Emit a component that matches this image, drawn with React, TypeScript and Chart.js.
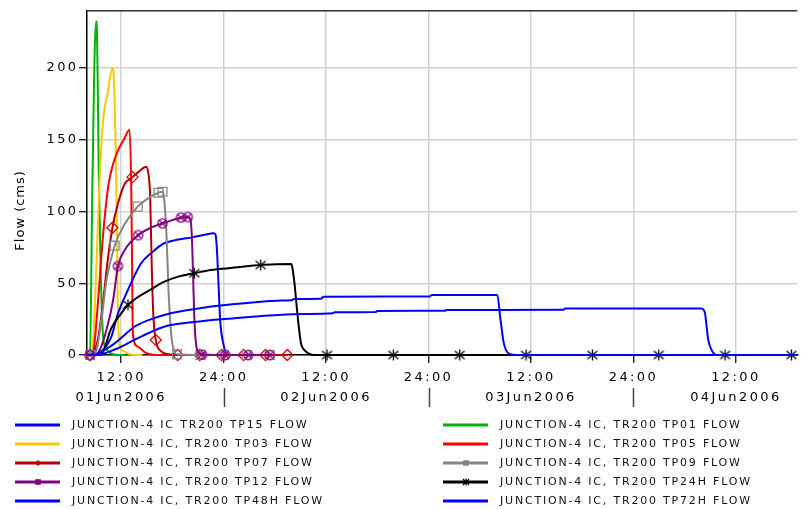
import React, { useEffect, useRef } from "react";
import { Chart, registerables } from "chart.js";
Chart.register(...registerables);

type Pt = [number, number];

// ---- labels ----
const SERIES_NAMES = [
  "JUNCTION-4 IC TR200 TP15 FLOW",
  "JUNCTION-4 IC, TR200 TP01 FLOW",
  "JUNCTION-4 IC, TR200 TP03 FLOW",
  "JUNCTION-4 IC, TR200 TP05 FLOW",
  "JUNCTION-4 IC, TR200 TP07 FLOW",
  "JUNCTION-4 IC, TR200 TP09 FLOW",
  "JUNCTION-4 IC, TR200 TP12 FLOW",
  "JUNCTION-4 IC, TR200 TP24H FLOW",
  "JUNCTION-4 IC, TR200 TP48H FLOW",
  "JUNCTION-4 IC, TR200 TP72H FLOW",
];
const Y_TITLE = "Flow (cms)";
const Y_TICKS = [0, 50, 100, 150, 200];
const X_TICK_HOURS = [12, 24, 36, 48, 60, 72, 84]; // hours after 01Jun2006 00:00
const DATE_LABELS = ["01Jun2006", "02Jun2006", "03Jun2006", "04Jun2006"];
const X_MIN_HOUR = 8;
const X_MAX_HOUR = 91.2;
const Y_MAX = 240;

// ---- series values: [hour, flow] ----
const TP15: Pt[] = [[8.0,0],[9.0,0],[9.3,1.2],[10.1,5],[10.86,12.8],[11.63,29],[12.79,45.3],[14.34,64],[15.6,71.5],[17.04,77.9],[18.7,80.5],[20.32,82],[21.8,83.8],[22.83,84.8],[23.05,84],[23.2,75],[23.4,50],[23.6,24],[24.0,7],[24.37,0.5],[25.0,0]];
const TP01: Pt[] = [[8.0,0],[8.35,0],[8.62,115],[9.05,232.5],[9.12,232],[9.4,120],[9.6,60],[9.9,12],[10.3,4],[10.7,1.5],[11.8,0],[12.5,0]];
const TP03: Pt[] = [[8.0,0],[8.55,0],[8.75,12],[8.95,38],[9.45,118],[9.9,164],[10.4,182],[11.0,200],[11.08,199],[11.44,115],[11.6,35],[11.8,8],[12.2,3],[12.8,1],[13.5,0],[14.5,0]];
const TP05: Pt[] = [[8.0,0],[8.6,0],[8.8,4],[9.3,38],[9.9,85],[10.5,118],[11.0,132],[11.65,143],[12.3,150],[12.98,157],[13.18,118],[13.3,50],[13.38,14],[13.9,6],[14.9,1.5],[16.5,0],[19.0,0]];
const TP07: Pt[] = [[8.0,0],[8.35,0],[8.9,3],[9.4,15],[9.9,38],[10.4,65],[10.98,88.7],[11.6,105],[12.4,119],[13.33,124],[14.1,128],[14.92,131.3],[15.2,126],[15.4,110],[15.55,70],[15.75,30],[16.05,10.5],[16.6,3],[17.6,0.5],[18.62,0],[21.19,0],[23.76,0],[26.33,0],[28.9,0],[31.47,0]];
const TP09: Pt[] = [[8.0,0],[8.35,0],[8.8,0.5],[9.12,3.5],[9.7,24.4],[10.28,52],[11.24,76.2],[12.5,92],[13.94,103.4],[15.1,109],[16.38,113.1],[16.84,113.8],[17.05,108],[17.3,85],[17.55,45],[17.85,15],[18.2,3],[18.54,0.5],[21.29,0],[23.99,0],[26.69,0],[29.4,0]];
const TP12: Pt[] = [[8.0,0],[8.35,0],[9.0,0.3],[9.5,3.5],[10.28,17.4],[11.05,38],[11.63,62],[12.4,73],[14.0,83.6],[15.4,88.5],[16.84,91.8],[18.0,94],[19.0,95.8],[19.8,96.2],[20.1,95],[20.3,80],[20.45,50],[20.6,22],[20.9,3.5],[21.47,0.3],[24.19,0],[26.89,0],[29.4,0]];
const TP24H: Pt[] = [[8.0,0],[9.4,0],[9.8,1.5],[10.2,7],[10.66,16],[11.2,22.5],[11.82,27.5],[12.8,35],[14.0,40.5],[15.5,45.8],[17.0,51],[18.8,54.8],[20.57,57],[22.5,59.2],[24.57,60.5],[26.4,61.7],[28.34,62.7],[30.2,63.2],[31.9,63.4],[32.05,61],[32.3,50],[32.68,26.7],[33.06,8.1],[33.45,3.5],[34.0,1],[34.6,0],[36.11,0],[43.88,0],[51.65,0],[59.42,0],[67.19,0],[74.96,0],[82.73,0],[90.5,0],[91.2,0]];
const TP48H: Pt[] = [[8.0,0],[9.0,0],[9.31,1.2],[10.2,4],[11.24,8.1],[12.4,14],[13.56,19.7],[15.3,24.5],[17.04,27.9],[19.5,31],[22.0,33.3],[25.0,35.3],[27.7,36.8],[30.36,37.9],[32.0,38.1],[32.2,39.0],[35.4,39.2],[35.7,40.6],[48.1,40.8],[48.4,41.8],[56.05,41.8],[56.43,24.4],[56.82,8.1],[57.39,1.2],[58.55,0],[91.2,0]];
const TP72H: Pt[] = [[8.0,0],[9.6,0],[10.09,1.2],[11.63,4.7],[13.56,10.5],[15.3,15.5],[17.04,19.7],[19.5,22.3],[22.0,24],[25.0,25.5],[27.7,26.8],[30.36,27.9],[33.5,28.6],[36.8,29.1],[37.0,29.8],[41.8,29.9],[42.0,30.7],[49.9,30.8],[50.1,31.4],[63.8,31.5],[64.0,32.4],[79.98,32.4],[80.2,31.5],[80.38,29],[80.57,19.7],[80.76,10.5],[81.15,3.5],[81.73,0],[91.2,0]];

// hours at which a series shows a marker
const TP07_MARKERS = [8.35, 10.98, 13.33, 16.05, 18.62, 21.19, 23.76, 26.33, 28.9, 31.47];
const TP09_MARKERS = [8.35, 11.24, 13.94, 16.38, 16.84, 18.54, 21.29, 23.99, 26.69, 29.4];
const TP12_MARKERS = [8.35, 11.63, 14.0, 16.84, 19.0, 19.8, 21.47, 24.19, 26.89, 29.4];
const TP24H_MARKERS = [12.8, 20.57, 28.34, 36.11, 43.88, 51.65, 59.42, 67.19, 74.96, 82.73, 90.5];

// ---- styles ----
type SeriesCfg = { data: Pt[]; color: string; marker: string | null; markers: number[]; order: number };
const SERIES: SeriesCfg[] = [
  { data: TP15, color: "#0000ff", marker: null, markers: [], order: 6 },
  { data: TP01, color: "#00b400", marker: null, markers: [], order: 9 },
  { data: TP03, color: "#ffc800", marker: null, markers: [], order: 8 },
  { data: TP05, color: "#ff0000", marker: null, markers: [], order: 7 },
  { data: TP07, color: "#b40000", marker: "diamond", markers: TP07_MARKERS, order: 5 },
  { data: TP09, color: "#858585", marker: "square", markers: TP09_MARKERS, order: 4 },
  { data: TP12, color: "#820082", marker: "circleX", markers: TP12_MARKERS, order: 3 },
  { data: TP24H, color: "#000000", marker: "asterisk", markers: TP24H_MARKERS, order: 2 },
  { data: TP48H, color: "#0000ff", marker: null, markers: [], order: 1 },
  { data: TP72H, color: "#0000ff", marker: null, markers: [], order: 0 },
];

const FONT = "DejaVu Sans";
const TICK_SPACING = "2.4px";

function makeMarker(kind: string, color: string): HTMLCanvasElement {
  const c = document.createElement("canvas");
  c.width = 13;
  c.height = 13;
  const g = c.getContext("2d")!;
  g.strokeStyle = color;
  g.lineWidth = 1.3;
  const m = 6.5;
  g.beginPath();
  if (kind === "circleX") {
    g.arc(m, m, 4.6, 0, Math.PI * 2);
    g.moveTo(m - 3.3, m - 3.3);
    g.lineTo(m + 3.3, m + 3.3);
    g.moveTo(m + 3.3, m - 3.3);
    g.lineTo(m - 3.3, m + 3.3);
  } else if (kind === "asterisk") {
    g.moveTo(m - 5, m - 4);
    g.lineTo(m + 5, m + 4);
    g.moveTo(m + 5, m - 4);
    g.lineTo(m - 5, m + 4);
    g.moveTo(m, m - 5.5);
    g.lineTo(m, m + 5.5);
  }
  g.stroke();
  return c;
}

function drawLegendMarker(ctx: CanvasRenderingContext2D, kind: string | null, color: string, x: number, y: number) {
  if (!kind) return;
  ctx.save();
  ctx.fillStyle = color;
  ctx.strokeStyle = color;
  ctx.lineWidth = 1.2;
  ctx.beginPath();
  if (kind === "diamond") {
    ctx.moveTo(x, y - 3);
    ctx.lineTo(x + 3, y);
    ctx.lineTo(x, y + 3);
    ctx.lineTo(x - 3, y);
    ctx.closePath();
    ctx.fill();
  } else if (kind === "square" || kind === "circleX") {
    ctx.rect(x - 2.8, y - 2.8, 5.6, 5.6);
    ctx.fill();
  } else if (kind === "asterisk") {
    ctx.moveTo(x - 3, y - 3);
    ctx.lineTo(x + 3, y + 3);
    ctx.moveTo(x + 3, y - 3);
    ctx.lineTo(x - 3, y + 3);
    ctx.moveTo(x, y - 3.5);
    ctx.lineTo(x, y + 3.5);
    ctx.stroke();
  }
  ctx.restore();
}

const decorPlugin = {
  id: "decor",
  beforeUpdate(chart: any) {
    chart.ctx.letterSpacing = TICK_SPACING;
  },
  beforeDraw(chart: any) {
    chart.ctx.letterSpacing = TICK_SPACING;
  },
  afterDraw(chart: any) {
    const { ctx, chartArea, scales } = chart;
    ctx.save();
    // top frame line
    ctx.strokeStyle = "#333";
    ctx.lineWidth = 1.5;
    ctx.beginPath();
    ctx.moveTo(chartArea.left, chartArea.top);
    ctx.lineTo(chartArea.right, chartArea.top);
    ctx.stroke();
    // day separators under the 24:00 ticks
    ctx.strokeStyle = "#444";
    ctx.lineWidth = 1.5;
    X_TICK_HOURS.filter((h) => h % 24 === 0).forEach((h) => {
      const px = Math.round(scales.x.getPixelForValue(h)) + 0.5;
      ctx.beginPath();
      ctx.moveTo(px, chartArea.bottom + 33);
      ctx.lineTo(px, chartArea.bottom + 52);
      ctx.stroke();
    });
    // y title
    ctx.save();
    ctx.translate(20.5, chartArea.top + (chartArea.bottom - chartArea.top) * 0.58);
    ctx.rotate(-Math.PI / 2);
    ctx.font = `13px "${FONT}"`;
    ctx.letterSpacing = "1px";
    ctx.fillStyle = "#000";
    ctx.textAlign = "center";
    ctx.textBaseline = "middle";
    ctx.fillText(Y_TITLE, 0, 0);
    ctx.restore();
    // legend (two columns)
    ctx.font = `11px "${FONT}"`;
    ctx.letterSpacing = "1.8px";
    ctx.textAlign = "left";
    ctx.textBaseline = "middle";
    SERIES.forEach((s, i) => {
      const col = i % 2;
      const row = Math.floor(i / 2);
      const x0 = col === 0 ? 15 : 443;
      const y = 425 + row * 19;
      ctx.strokeStyle = s.color;
      ctx.lineWidth = 3;
      ctx.beginPath();
      ctx.moveTo(x0, y);
      ctx.lineTo(x0 + 45, y);
      ctx.stroke();
      drawLegendMarker(ctx, s.marker, s.color, x0 + 23, y);
      ctx.fillStyle = "#111";
      ctx.fillText(SERIES_NAMES[i], x0 + 57, y + 0.5);
    });
    ctx.restore();
  },
};

export default function App() {
  const ref = useRef<HTMLCanvasElement>(null);
  useEffect(() => {
    document.body.style.margin = "0";
    const canvas = ref.current!;
    const markerImgs: Record<string, any> = {
      diamond: "rectRot",
      square: "rect",
      circleX: makeMarker("circleX", "#820082"),
      asterisk: makeMarker("asterisk", "#000000"),
    };
    const markerSize: Record<string, number> = { diamond: 5.5, square: 6.3, circleX: 5, asterisk: 5 };
    const markerColor: Record<string, string> = { diamond: "#e00000", square: "#8a8a8a", circleX: "#820082", asterisk: "#000" };

    const datasets = SERIES.map((s, i) => {
      const set = new Set(s.markers);
      return {
        label: SERIES_NAMES[i],
        data: s.data.map(([x, y]) => ({ x, y })),
        borderColor: s.color,
        backgroundColor: s.color,
        borderWidth: 2,
        cubicInterpolationMode: "monotone" as const,
        order: s.order,
        clip: false as any,
        pointStyle: s.marker ? markerImgs[s.marker] : "circle",
        pointRadius: (c: any) => (s.marker && c.raw && set.has(c.raw.x) ? markerSize[s.marker] : 0),
        pointBorderColor: s.marker ? markerColor[s.marker] : s.color,
        pointBackgroundColor: "rgba(0,0,0,0)",
        pointBorderWidth: 1.3,
        pointHoverRadius: 0,
      };
    });

    const chart = new Chart(canvas, {
      type: "line",
      data: { datasets },
      plugins: [decorPlugin],
      options: {
        animation: false,
        responsive: false,
        devicePixelRatio: 1,
        events: [],
        layout: { padding: { top: 10.7, left: 0, right: 0, bottom: 0 } },
        plugins: { legend: { display: false }, tooltip: { enabled: false } },
        scales: {
          x: {
            type: "linear",
            position: "bottom",
            min: X_MIN_HOUR,
            max: X_MAX_HOUR,
            afterBuildTicks: (scale: any) => {
              scale.ticks = X_TICK_HOURS.map((v) => ({ value: v }));
            },
            afterFit: (scale: any) => {
              scale.height = 154;
              scale.paddingLeft = 0;
              scale.paddingRight = 0;
            },
            grid: { color: "#d2d2d2", lineWidth: 1.5, tickColor: "#000", tickLength: 8, tickWidth: 1.2 },
            border: { color: "#000", width: 1.5 },
            ticks: {
              autoSkip: false,
              maxRotation: 0,
              padding: 4.5,
              color: "#000",
              font: { family: FONT, size: 13, lineHeight: 20 / 13 },
              callback: (value: any) => {
                const h = Number(value);
                const hod = h % 24;
                if (hod === 12) return ["12:00", DATE_LABELS[Math.floor(h / 24)]];
                return `${hod === 0 ? 24 : hod}:00`;
              },
            },
          },
          y: {
            type: "linear",
            min: 0,
            max: Y_MAX,
            afterBuildTicks: (scale: any) => {
              scale.ticks = Y_TICKS.map((v) => ({ value: v }));
            },
            afterFit: (scale: any) => {
              scale.width = 87;
              scale.paddingTop = 0;
              scale.paddingBottom = 0;
            },
            grid: { color: "#d2d2d2", lineWidth: 1.5, tickColor: "#000", tickLength: 8, tickWidth: 1.2 },
            border: { color: "#000", width: 1.5 },
            ticks: {
              padding: 0.5,
              color: "#000",
              font: { family: FONT, size: 13 },
              callback: (v: any) => String(v),
            },
          },
        },
      } as any,
    });
    return () => chart.destroy();
  }, []);
  return (
    <div style={{ width: 805, height: 509, position: "relative" }}>
      <canvas ref={ref} width={805} height={509} style={{ display: "block" }} />
    </div>
  );
}
